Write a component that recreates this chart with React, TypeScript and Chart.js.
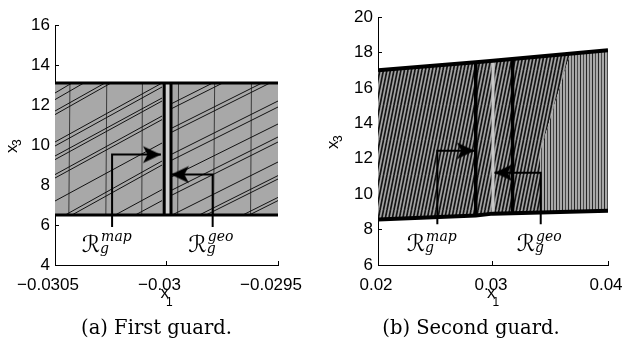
import React, { useEffect, useRef } from "react";
import { Chart, registerables } from "chart.js";

Chart.register(...registerables);

// ================= Panel (a): First guard =================
const aXTicks = [-0.0305, -0.03, -0.0295];
const aYTicks = [4, 6, 8, 10, 12, 14, 16];
const aRegionX = [-0.0305, -0.0305, -0.0295, -0.0295];
const aRegionY = [6.5, 13.1, 13.1, 6.5];
const aTopX = [-0.0305, -0.0295];
const aTopY = [13.1, 13.1];
const aBottomX = [-0.0305, -0.0295];
const aBottomY = [6.5, 6.5];
const aGuardX = [-0.0300103, -0.0299798];
const aGuardBottom = [6.5, 6.5];
const aGuardTop = [13.1, 13.1];
// trajectory segments [x0, y0, x1, y1]
const aDiagonals = [
  [-0.0305, 12.6, -0.030424, 13.1],
  [-0.0305, 12.27, -0.030371, 13.1],
  [-0.0305, 11.7, -0.030276, 13.1],
  [-0.0305, 11.52, -0.030249, 13.1],
  [-0.0305, 10.15, -0.03002, 13.1],
  [-0.0305, 9.95, -0.03002, 12.9],
  [-0.0305, 9.45, -0.03002, 12.35],
  [-0.0305, 9.27, -0.03002, 12.2],
  [-0.0305, 8.52, -0.03002, 11.45],
  [-0.0305, 8.35, -0.03002, 11.27],
  [-0.0305, 7.2, -0.03002, 10.1],
  [-0.030454, 6.5, -0.03002, 9.2],
  [-0.030424, 6.5, -0.03002, 9.0],
  [-0.03023, 6.5, -0.03002, 7.77],
  [-0.03014, 6.5, -0.03002, 7.22],
  [-0.029975, 12.08, -0.029793, 13.1],
  [-0.029975, 11.83, -0.029748, 13.1],
  [-0.029975, 10.85, -0.029572, 13.1],
  [-0.029975, 10.65, -0.029536, 13.1],
  [-0.029975, 9.55, -0.0295, 12.2],
  [-0.029975, 9.25, -0.0295, 11.9],
  [-0.029975, 8.42, -0.0295, 11.05],
  [-0.029975, 7.75, -0.0295, 10.4],
  [-0.029975, 7.5, -0.0295, 10.15],
  [-0.029975, 6.5, -0.0295, 9.15],
  [-0.029853, 6.5, -0.0295, 8.47],
  [-0.029823, 6.5, -0.0295, 8.3],
  [-0.029658, 6.5, -0.0295, 7.38],
  [-0.029629, 6.5, -0.0295, 7.22],
];
const aVerticals = [
  [-0.030438, 6.5, -0.030433, 13.1],
  [-0.030272, 6.5, -0.030268, 13.1],
  [-0.030111, 6.5, -0.030108, 13.1],
  [-0.029950, 6.5, -0.029946, 13.1],
  [-0.029789, 6.5, -0.029784, 13.1],
  [-0.029623, 6.5, -0.029619, 13.1],
];
const aMapArrowX = [-0.030244, -0.030244, -0.030025];
const aMapArrowY = [5.9, 9.52, 9.52];
const aGeoArrowX = [-0.029793, -0.029793, -0.02998];
const aGeoArrowY = [5.9, 8.52, 8.52];
const aLabelX = [-0.03038, -0.029902];
const aLabelY = [4.665, 4.665];
const aLabelSup = ["map", "geo"];

// ================= Panel (b): Second guard =================
const bXTicks = [0.02, 0.03, 0.04];
const bYTicks = [6, 8, 10, 12, 14, 16, 18, 20];
const bTopX = [0.02, 0.0285, 0.03, 0.04];
const bTopY = [17.0, 17.45, 17.53, 18.13];
const bBottomX = [0.02, 0.0285, 0.03, 0.04];
const bBottomY = [8.57, 8.8, 8.9, 9.06];
const bDiagRegionX = [0.02, 0.02, 0.0285, 0.03, 0.0367, 0.0341, 0.0341, 0.03, 0.0285, 0.02, 0.0367];
const bDiagRegionY = [8.57, 17.0, 17.45, 17.53, 17.93, 12.4, 8.97, 8.9, 8.8, 8.57, 17.93];
const bVertRegionX = [0.0341, 0.0341, 0.0367, 0.04, 0.04];
const bVertRegionY = [8.97, 12.4, 17.93, 18.13, 9.06];
const bGuardX = [0.0285, 0.0317];
const bGuardBottom = [8.8, 8.93];
const bGuardTop = [17.45, 17.63];
const bMidX = [0.03, 0.03];
const bMidY = [8.9, 17.53];
const bMapArrowX = [0.02516, 0.02516, 0.0284];
const bMapArrowY = [8.3, 12.45, 12.45];
const bGeoArrowX = [0.03415, 0.03415, 0.03013];
const bGeoArrowY = [8.3, 11.21, 11.21];
const bLabelX = [0.0225, 0.03206];
const bLabelY = [6.79, 6.79];
const bLabelSup = ["map", "geo"];

// ================= helpers =================
const SANS = '"Liberation Sans", Arial, Helvetica, sans-serif';
const pts = (xs: number[], ys: number[]) => xs.map((x, i) => ({ x, y: ys[i] }));
const segPts = (segs: number[][]) =>
  segs.flatMap((s) => [
    { x: s[0], y: s[1] },
    { x: s[2], y: s[3] },
    { x: s[2], y: null as any },
  ]);
const guardPts = (xs: number[], bots: number[], tops: number[]) =>
  xs.flatMap((x, i) => [
    { x, y: bots[i] },
    { x, y: tops[i] },
    { x, y: null as any },
  ]);

const lineDs = (data: any[], color: string, width: number) => ({
  data,
  showLine: true,
  borderColor: color,
  borderWidth: width,
  borderCapStyle: "butt",
  pointRadius: 0,
  fill: false,
  spanGaps: false,
});
const areaDs = (data: any[], bg: any) => ({
  data,
  showLine: true,
  borderWidth: 0,
  pointRadius: 0,
  fill: "shape",
  backgroundColor: bg,
});
const arrowDs = (data: any[], head: HTMLCanvasElement, rot: number) => ({
  data,
  showLine: true,
  borderColor: "#000",
  borderWidth: 2,
  borderCapStyle: "butt",
  pointRadius: [0, 0, 6],
  pointStyle: head,
  pointRotation: rot,
  fill: false,
});

function makeArrowHead() {
  const c = document.createElement("canvas");
  c.width = 40;
  c.height = 20;
  const g = c.getContext("2d")!;
  g.fillStyle = "#000";
  g.beginPath();
  g.moveTo(20, 10);
  g.lineTo(2, 1.5);
  g.lineTo(6.5, 10);
  g.lineTo(2, 18.5);
  g.closePath();
  g.fill();
  return c;
}

function diagPattern(ctx: CanvasRenderingContext2D) {
  const c = document.createElement("canvas");
  c.width = 7;
  c.height = 35;
  const g = c.getContext("2d")!;
  g.fillStyle = "#a2a2a2";
  g.fillRect(0, 0, 7, 35);
  g.strokeStyle = "#141414";
  g.lineWidth = 1.7;
  for (const x0 of [-10.5, -7, -3.5, 0, 3.5, 7]) {
    g.beginPath();
    g.moveTo(x0, 35);
    g.lineTo(x0 + 7, 0);
    g.stroke();
  }
  return ctx.createPattern(c, "repeat");
}

function vertPattern(ctx: CanvasRenderingContext2D) {
  const c = document.createElement("canvas");
  c.width = 6;
  c.height = 1;
  const g = c.getContext("2d")!;
  g.fillStyle = "#a8a8a8";
  g.fillRect(0, 0, 6, 1);
  g.fillStyle = "#262626";
  g.fillRect(0, 0, 1, 1);
  g.fillStyle = "#4a4a4a";
  g.fillRect(3, 0, 1, 1);
  return ctx.createPattern(c, "repeat");
}

const fmt = (v: number) => String(Number(Number(v).toPrecision(6))).replace("-", "\u2212");

function textPlugin(cfg: { labelX: number[]; labelY: number[]; sup: string[]; yGap: number }) {
  return {
    id: "texts",
    afterDraw(chart: any) {
      const { ctx, chartArea: ca } = chart;
      const xs = chart.scales.x;
      const ys = chart.scales.y;
      ctx.save();
      ctx.fillStyle = "#000";
      ctx.textBaseline = "alphabetic";
      ctx.textAlign = "left";
      cfg.labelX.forEach((lx, i) => {
        const px = xs.getPixelForValue(lx);
        const py = ys.getPixelForValue(cfg.labelY[i]);
        ctx.font = '23px "DejaVu Serif", "DejaVu Sans", serif';
        ctx.fillText("\u211B", px, py);
        const w = ctx.measureText("\u211B").width;
        ctx.font = 'italic 14px "DejaVu Serif", serif';
        ctx.fillText(cfg.sup[i], px + w + 1, py - 10.5);
        ctx.fillText("g", px + w, py + 1);
      });
      const cx = (ca.left + ca.right) / 2;
      ctx.font = "17px " + SANS;
      ctx.fillText("x", cx - 6, ca.bottom + 32.7);
      ctx.font = "12px " + SANS;
      ctx.fillText("1", cx - 0.5, ca.bottom + 41);
      const cy = (ca.top + ca.bottom) / 2;
      ctx.translate(ca.left - cfg.yGap, cy + 8);
      ctx.rotate(-Math.PI / 2);
      ctx.font = "17px " + SANS;
      ctx.fillText("x", 0, 0);
      ctx.font = "12px " + SANS;
      ctx.fillText("3", 7, 3.5);
      ctx.restore();
    },
  };
}

function scaleOpts(p: {
  xMin: number; xMax: number; yMin: number; yMax: number;
  xTicks: number[]; yTicks: number[]; yWidth: number; labelOffset: number;
}) {
  const tickFont = { family: SANS, size: 17 };
  const grid = { drawOnChartArea: false, drawTicks: true, tickLength: -4, color: "#000", tickColor: "#000", lineWidth: 1 };
  return {
    x: {
      type: "linear",
      min: p.xMin,
      max: p.xMax,
      afterBuildTicks: (s: any) => { s.ticks = p.xTicks.map((v) => ({ value: v })); },
      afterFit: (s: any) => { s.height = 73; s.paddingLeft = 0; s.paddingRight = 0; },
      grid,
      border: { display: true, color: "#000", width: 1 },
      ticks: { font: tickFont, color: "#000", padding: 14, maxRotation: 0, autoSkip: false, labelOffset: p.labelOffset, callback: (v: number) => fmt(v) },
    },
    y: {
      type: "linear",
      min: p.yMin,
      max: p.yMax,
      afterBuildTicks: (s: any) => { s.ticks = p.yTicks.map((v) => ({ value: v })); },
      afterFit: (s: any) => { s.width = p.yWidth; s.paddingTop = 0; s.paddingBottom = 0; },
      grid,
      border: { display: true, color: "#000", width: 1 },
      ticks: { font: tickFont, color: "#000", padding: 9, autoSkip: false, callback: (v: number) => String(v) },
    },
  };
}

export default function App() {
  const refA = useRef<HTMLCanvasElement>(null);
  const refB = useRef<HTMLCanvasElement>(null);

  useEffect(() => {
    const head = makeArrowHead();
    const charts: Chart[] = [];

    const ctxA = refA.current!.getContext("2d")!;
    const bandX = [aGuardX[0], aGuardX[0], aGuardX[1], aGuardX[1]];
    const bandY = [aGuardBottom[0], aGuardTop[0], aGuardTop[1], aGuardBottom[1]];
    charts.push(
      new Chart(ctxA, {
        type: "scatter",
        data: {
          datasets: [
            arrowDs(pts(aMapArrowX, aMapArrowY), head, 0),
            arrowDs(pts(aGeoArrowX, aGeoArrowY), head, 180),
            lineDs(guardPts(aGuardX, aGuardBottom, aGuardTop), "#000", 3),
            lineDs(pts(aTopX, aTopY), "#000", 3),
            lineDs(pts(aBottomX, aBottomY), "#000", 3),
            lineDs(segPts(aDiagonals), "#111", 1),
            lineDs(segPts(aVerticals), "#3a3a3a", 1),
            areaDs(pts(bandX, bandY), "#d2d2d2"),
            areaDs(pts(aRegionX, aRegionY), "#a8a8a8"),
          ] as any,
        },
        options: {
          animation: false,
          responsive: false,
          events: [],
          layout: { padding: { left: 0, right: 32, top: 25, bottom: 0 } },
          plugins: { legend: { display: false }, tooltip: { enabled: false } },
          scales: scaleOpts({ xMin: -0.0305, xMax: -0.0295, yMin: 4, yMax: 16, xTicks: aXTicks, yTicks: aYTicks, yWidth: 55, labelOffset: -7 }) as any,
        },
        plugins: [textPlugin({ labelX: aLabelX, labelY: aLabelY, sup: aLabelSup, yGap: 37.7 })],
      })
    );

    const ctxB = refB.current!.getContext("2d")!;
    charts.push(
      new Chart(ctxB, {
        type: "scatter",
        data: {
          datasets: [
            arrowDs(pts(bMapArrowX, bMapArrowY), head, 0),
            arrowDs(pts(bGeoArrowX, bGeoArrowY), head, 180),
            lineDs(guardPts(bGuardX, bGuardBottom, bGuardTop), "#000", 3.5),
            lineDs(pts(bTopX, bTopY), "#000", 4),
            lineDs(pts(bBottomX, bBottomY), "#000", 4),
            lineDs(pts(bMidX, bMidY), "#c8c8c8", 3),
            areaDs(pts(bVertRegionX, bVertRegionY), vertPattern(ctxB)),
            areaDs(pts(bDiagRegionX, bDiagRegionY), diagPattern(ctxB)),
          ] as any,
        },
        options: {
          animation: false,
          responsive: false,
          events: [],
          layout: { padding: { left: 0, right: 15, top: 17, bottom: 0 } },
          plugins: { legend: { display: false }, tooltip: { enabled: false } },
          scales: scaleOpts({ xMin: 0.02, xMax: 0.04, yMin: 6, yMax: 20, xTicks: bXTicks, yTicks: bYTicks, yWidth: 68, labelOffset: -2 }) as any,
        },
        plugins: [textPlugin({ labelX: bLabelX, labelY: bLabelY, sup: bLabelSup, yGap: 39.7 })],
      })
    );

    return () => charts.forEach((c) => c.destroy());
  }, []);

  const cap: React.CSSProperties = {
    position: "absolute",
    top: 318,
    textAlign: "center",
    fontFamily: '"DejaVu Serif", "Liberation Serif", serif',
    fontSize: 19.5,
    lineHeight: "19.5px",
    color: "#000",
    whiteSpace: "nowrap",
  };

  return (
    <div style={{ position: "fixed", left: 0, top: 0, width: 623, height: 338, background: "#fff", overflow: "hidden" }}>
      <canvas ref={refA} width={310} height={338} style={{ position: "absolute", left: 0, top: 0 }} />
      <canvas ref={refB} width={313} height={338} style={{ position: "absolute", left: 310, top: 0 }} />
      <div style={{ ...cap, left: 0, width: 313 }}>(a) First guard.</div>
      <div style={{ ...cap, left: 320, width: 302 }}>(b) Second guard.</div>
    </div>
  );
}
